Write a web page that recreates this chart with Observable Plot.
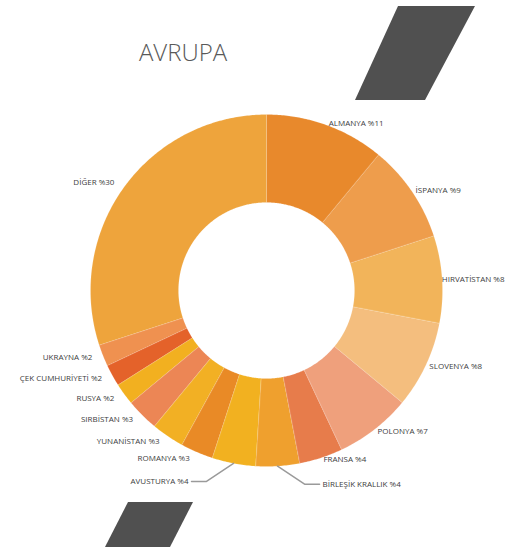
<!DOCTYPE html>
<html>
<head>
<meta charset="utf-8">
<script src="https://cdn.jsdelivr.net/npm/d3@7"></script>
<script src="https://cdn.jsdelivr.net/npm/@observablehq/plot@0.6"></script>
<style>
  body { margin: 0; background: #fff; }
  #wrap { position: relative; width: 505px; height: 547px; overflow: hidden; font-family: "Open Sans", sans-serif; }
  #title { position: absolute; left: 0; top: 35px; width: 366px; text-align: center; font-size: 24px; font-weight: 300; color: #595959; }
  .deco { position: absolute; left: 0; top: 0; width: 505px; height: 547px; background: #505050; }
  #d1 { clip-path: polygon(398px 6px, 475px 6px, 425px 100px, 355px 100px); }
  #d2 { clip-path: polygon(128px 502px, 193px 502px, 170px 547px, 105px 547px); }
  #chart { position: absolute; left: 0; top: 0; }
</style>
</head>
<body>
<div id="wrap">
  <div class="deco" id="d1"></div>
  <div class="deco" id="d2"></div>
  <div id="title">AVRUPA</div>
  <div id="chart"></div>
</div>
<script>
// ---- data ----
const countries = ["ALMANYA", "İSPANYA", "HIRVATİSTAN", "SLOVENYA", "POLONYA", "FRANSA",
  "BİRLEŞİK KRALLIK", "AVUSTURYA", "ROMANYA", "YUNANİSTAN", "SIRBİSTAN", "RUSYA",
  "ÇEK CUMHURİYETİ", "UKRAYNA", "DİĞER"];
const shares = [11, 9, 8, 8, 7, 4, 4, 4, 3, 3, 3, 2, 2, 2, 30];
const colors = ["#E8892C", "#EE9D4C", "#F2B45A", "#F4BE7E", "#EFA07C", "#E77C4B",
  "#EFA02E", "#F2B120", "#E98A26", "#F2B024", "#EC8655", "#F2B020",
  "#E4622A", "#EF9150", "#EEA43C"];

// ---- layout ----
const W = 505, H = 547, cx = 266, cy = 290, R = 176, inner = 0.5;
const FONT = "8px 'Open Sans'";
const ctx = document.createElement("canvas").getContext("2d");
ctx.font = FONT;
const total = d3.sum(shares);
let acc = 0;
const slices = countries.map((name, i) => {
  const a0 = acc / total * 2 * Math.PI;
  acc += shares[i];
  const a1 = acc / total * 2 * Math.PI;
  return {name, value: shares[i], color: colors[i], a0, a1, mid: (a0 + a1) / 2};
});

// ring polygons in data space (unit radius)
const ringPts = slices.flatMap(s => {
  const n = Math.max(4, Math.ceil((s.a1 - s.a0) / 0.01));
  const angs = d3.range(n + 1).map(k => s.a0 + (s.a1 - s.a0) * k / n);
  const outer = angs.map(a => ({name: s.name, color: s.color, x: Math.sin(a), y: Math.cos(a)}));
  const inn = angs.slice().reverse().map(a => ({name: s.name, color: s.color, x: inner * Math.sin(a), y: inner * Math.cos(a)}));
  return outer.concat(inn);
});

// labels
const px = 1 / R; // one pixel in data units
const xMax = (W - cx - 1) / R;
const labels = [];
const leaders = [];
slices.forEach(s => {
  const sn = Math.sin(s.mid), cs = Math.cos(s.mid);
  const side = sn >= 0 ? 1 : -1;
  const text = `${s.name} %${s.value}`;
  const tw = ctx.measureText(text).width * px;
  if (Math.abs(s.mid - Math.PI) < 15 * Math.PI / 180) {
    const ex = sn, ey = cs;
    const bx = ex + side * 27 * px, by = ey - 18 * px;
    const tx = bx + side * 15 * px;
    leaders.push({name: s.name, x: ex, y: ey}, {name: s.name, x: bx, y: by}, {name: s.name, x: tx, y: by});
    labels.push({text, x: tx + side * 3 * px, y: by, anchor: side > 0 ? "start" : "end"});
  } else if (side > 0) {
    const r = 1.01;
    const x = Math.min(r * sn + 2 * px, xMax - tw);
    labels.push({text, x, y: r * cs, anchor: "start"});
  } else {
    const r = 1.04;
    labels.push({text, x: r * sn - 4 * px, y: r * cs, anchor: "end"});
  }
});

const chart = Plot.plot({
  width: W, height: H,
  margin: 0,
  style: {background: "transparent", fontFamily: "'Open Sans', sans-serif"},
  x: {domain: [-cx / R, (W - cx) / R], range: [0, W], axis: null},
  y: {domain: [(cy - H) / R, cy / R], range: [H, 0], axis: null},
  marks: [
    Plot.line(ringPts, {x: "x", y: "y", z: "name", fill: "color", stroke: "#ffffff", strokeOpacity: 0.2, strokeWidth: 0.7, curve: "linear-closed"}),
    Plot.line(leaders, {x: "x", y: "y", z: "name", stroke: "#9a9a9a", strokeWidth: 1.5}),
    Plot.text(labels.filter(d => d.anchor === "start"), {x: "x", y: "y", text: "text", textAnchor: "start", fontSize: 8, fill: "#404040"}),
    Plot.text(labels.filter(d => d.anchor === "end"), {x: "x", y: "y", text: "text", textAnchor: "end", fontSize: 8, fill: "#404040"})
  ]
});
document.getElementById("chart").appendChild(chart);
</script>
</body>
</html>
